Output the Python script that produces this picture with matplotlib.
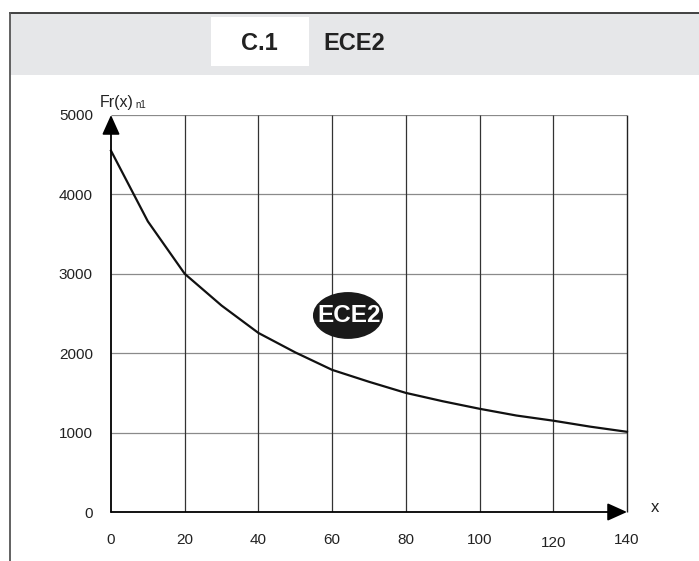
import matplotlib
matplotlib.use("Agg")
import matplotlib.pyplot as plt
from matplotlib.patches import Rectangle, Ellipse
from matplotlib.lines import Line2D

plt.rcParams['font.family'] = ['Liberation Sans', 'DejaVu Sans']

# Data
x_vals = [0, 10, 20, 30, 40, 50, 60, 70, 80, 90, 100, 110, 120, 130, 140]
fr_vals = [4550, 3660, 3000, 2600, 2255, 2010, 1790, 1640, 1500, 1395, 1300, 1215, 1150, 1075, 1010]
x_ticks = [0, 20, 40, 60, 80, 100, 120, 140]
y_ticks = [0, 1000, 2000, 3000, 4000, 5000]
title_code = "C.1"
title_name = "ECE2"
badge_text = "ECE2"
y_label = "Fr(x)"
y_label_sub = "n1"
x_label = "x"

W, H = 699, 561
fig = plt.figure(figsize=(W / 100, H / 100), dpi=100)
fig.patch.set_facecolor('white')

def fx(px):
    return px / W

def fy(py):
    return 1 - py / H

# page frame and header band
fig.add_artist(Rectangle((fx(10), fy(75)), fx(699 - 10), (75 - 13) / H,
                         transform=fig.transFigure, facecolor='#e6e7e9', edgecolor='none', zorder=0))
fig.add_artist(Rectangle((fx(211), fy(66)), fx(309 - 211), (66 - 17) / H,
                         transform=fig.transFigure, facecolor='white', edgecolor='none', zorder=1))
fig.add_artist(Line2D([fx(10), fx(699)], [fy(13), fy(13)], transform=fig.transFigure,
                      color='#333333', lw=1.3, zorder=2))
fig.add_artist(Line2D([fx(10), fx(10)], [fy(13), fy(561)], transform=fig.transFigure,
                      color='#555555', lw=1.3, zorder=2))
fig.text(fx(259), fy(44), title_code, ha='center', va='center', fontsize=17,
         fontweight='bold', color='#222222')
fig.text(fx(323), fy(44), title_name, ha='left', va='center', fontsize=17,
         fontweight='bold', color='#222222')

# axes
left, right, top, bottom = 111, 627, 115, 512
ax = fig.add_axes([fx(left), fy(bottom), (right - left) / W, (bottom - top) / H])
ax.set_xlim(0, 140)
ax.set_ylim(0, 5000)
for s in ax.spines.values():
    s.set_visible(False)
ax.patch.set_alpha(0)

# grid
ax.hlines(y_ticks[1:], 0, 140, colors='#8a8a8a', lw=0.9, zorder=1)
ax.vlines(x_ticks[1:-1], 0, 5000, colors='#333333', lw=0.9, zorder=1)
ax.vlines([x_ticks[-1]], 0, 5000, colors='#222222', lw=1.0, zorder=1, clip_on=False)

# axes arrows
arrow_style = '-|>,head_length=0.6,head_width=0.27'
ax.annotate('', xy=(0, 5000), xytext=(0, 0),
            arrowprops=dict(arrowstyle=arrow_style, mutation_scale=20, color='black',
                            lw=1.3, shrinkA=0, shrinkB=0), annotation_clip=False, zorder=4)
ax.annotate('', xy=(140, 0), xytext=(0, 0),
            arrowprops=dict(arrowstyle=arrow_style, mutation_scale=20, color='black',
                            lw=1.3, shrinkA=0, shrinkB=0), annotation_clip=False, zorder=4)

# curve
ax.plot(x_vals, fr_vals, color='#111111', lw=1.6, zorder=3, clip_on=False)

# badge
ax.add_patch(Ellipse((64.3, 2475), 19.0, 590, facecolor='#1a1a1a', edgecolor='none', zorder=5))
ax.text(64.6, 2475, badge_text, ha='center', va='center', fontsize=17.5, fontweight='bold',
        color='white', zorder=6)

# ticks
ax.set_yticks(y_ticks)
ax.set_yticklabels([str(v) for v in y_ticks], fontsize=11, color='#222222')
ax.tick_params(axis='y', length=0, pad=13)
ax.set_xticks([])
for v in x_ticks:
    dy = -31 if v == 120 else -28
    ax.annotate(str(v), xy=(v, 0), xytext=(0, dy), textcoords='offset pixels',
                ha='center', va='center', fontsize=11, color='#222222', annotation_clip=False)

# axis labels
fig.text(fx(100), fy(102), y_label, ha='left', va='center', fontsize=11.5, color='#222222')
fig.text(fx(135), fy(105.5), y_label_sub, ha='left', va='center', fontsize=7, color='#222222')
fig.text(fx(655), fy(508), x_label, ha='center', va='center', fontsize=12, color='#222222')

fig.savefig('out.png', dpi=100)
